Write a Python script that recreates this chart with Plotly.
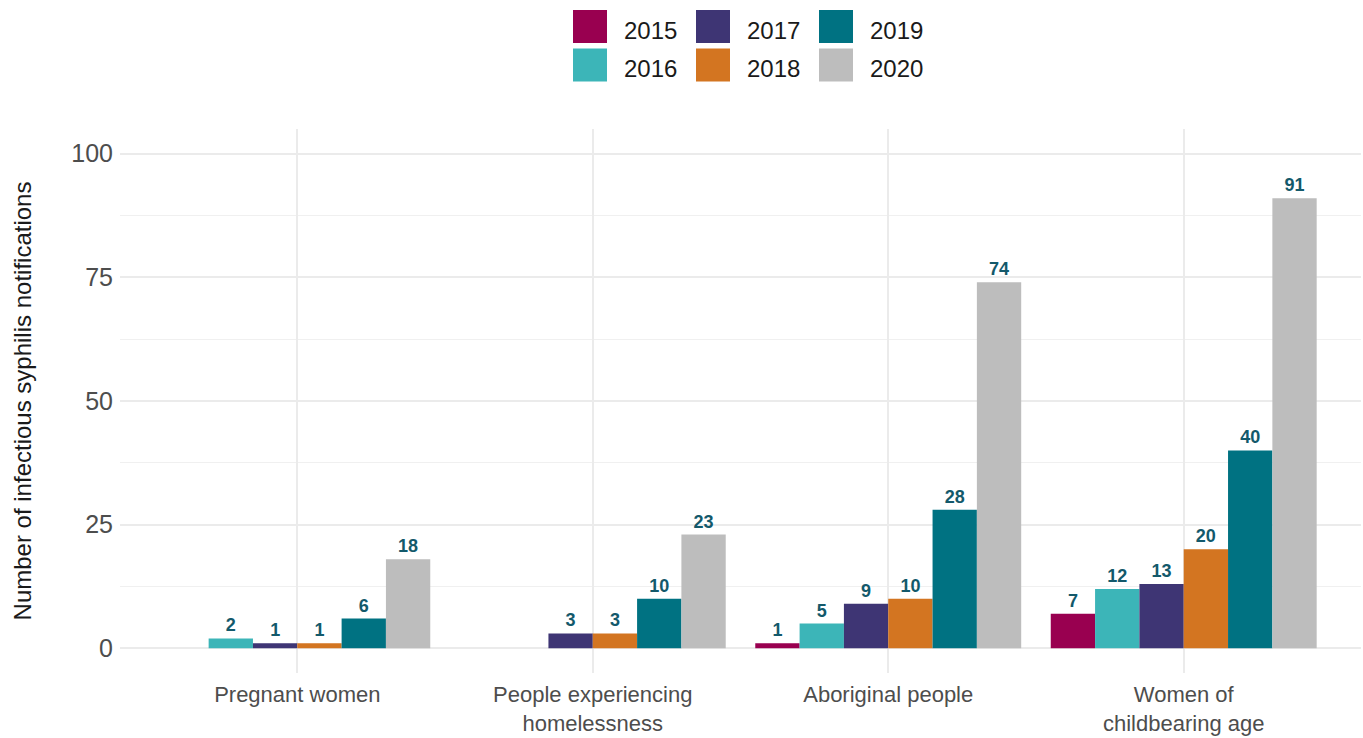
import plotly.graph_objects as go

CATEGORIES = ["Pregnant women", "People experiencing<br>homelessness",
              "Aboriginal people", "Women of<br>childbearing age"]
YEARS = ["2015", "2016", "2017", "2018", "2019", "2020"]
V2015 = [None, None, 1, 7]
V2016 = [2, None, 5, 12]
V2017 = [1, 3, 9, 13]
V2018 = [1, 3, 10, 20]
V2019 = [6, 10, 28, 40]
V2020 = [18, 23, 74, 91]
SERIES = [V2015, V2016, V2017, V2018, V2019, V2020]
COLORS = ["#990050", "#3cb5b8", "#3e3574", "#d37521", "#007282", "#bdbdbd"]
Y_TICKS = [0, 25, 50, 75, 100]

W, H = 1363, 738
L, R, T, B = 120, 2, 129, 65
PW, PH = W - L - R, H - T - B
FONT = "Liberation Sans, Arial, sans-serif"
LABEL_COLOR = "#13596b"

fig = go.Figure()
for name, vals, col in zip(YEARS, SERIES, COLORS):
    fig.add_trace(go.Bar(
        x=CATEGORIES, y=vals, name=name, marker_color=col,
        marker_line_width=0,
        text=[("" if v is None else str(v)) for v in vals],
        textposition="outside", cliponaxis=False,
        textfont=dict(family=FONT, size=18, color=LABEL_COLOR, weight="bold"),
        showlegend=False,
    ))

def px_x(px):
    return (px - L) / PW

def px_y(py):
    return (H - B - py) / PH

# custom legend (column-major, 2 rows x 3 columns)
shapes, annos = [], []
for i, (name, col) in enumerate(zip(YEARS, COLORS)):
    c, r = i // 2, i % 2
    x0 = 573 + c * 123
    y0 = 10 + r * 38.5
    shapes.append(dict(type="rect", xref="paper", yref="paper",
                       x0=px_x(x0), x1=px_x(x0 + 34), y0=px_y(y0 + 33), y1=px_y(y0),
                       fillcolor=col, line=dict(width=0)))
    annos.append(dict(xref="paper", yref="paper", x=px_x(x0 + 49), y=px_y(y0 + 20),
                      text=name, showarrow=False, xanchor="left", yanchor="middle",
                      font=dict(family=FONT, size=24, color="#1a1a1a")))

fig.update_layout(
    width=W, height=H,
    margin=dict(l=L, r=R, t=T, b=B),
    paper_bgcolor="white", plot_bgcolor="white",
    barmode="group", bargap=0.1, bargroupgap=0,
    shapes=shapes, annotations=annos,
    font=dict(family=FONT),
    xaxis=dict(
        type="category", range=[-0.6, 3.6], automargin=False,
        showgrid=True, gridcolor="#ebebeb", gridwidth=1.5,
        showline=False, ticks="", zeroline=False,
        ticklabelstandoff=6,
        tickfont=dict(family=FONT, size=22, color="#4d4d4d"),
    ),
    yaxis=dict(
        range=[-5, 105], tickvals=Y_TICKS, automargin=False,
        showgrid=True, gridcolor="#ebebeb", gridwidth=1.5,
        zeroline=False, showline=False, ticks="",
        ticklabelstandoff=6,
        tickfont=dict(family=FONT, size=25, color="#4d4d4d"),
        minor=dict(tickvals=[12.5, 37.5, 62.5, 87.5], showgrid=True,
                   gridcolor="#f0f0f0", gridwidth=1),
        title=dict(text="Number of infectious syphilis notifications",
                   font=dict(family=FONT, size=24, color="#1a1a1a"), standoff=32),
    ),
)
fig.update_traces(constraintext="none")

fig.write_html("out.html", post_script="document.body.style.margin='0';",
               config={"displayModeBar": False})
